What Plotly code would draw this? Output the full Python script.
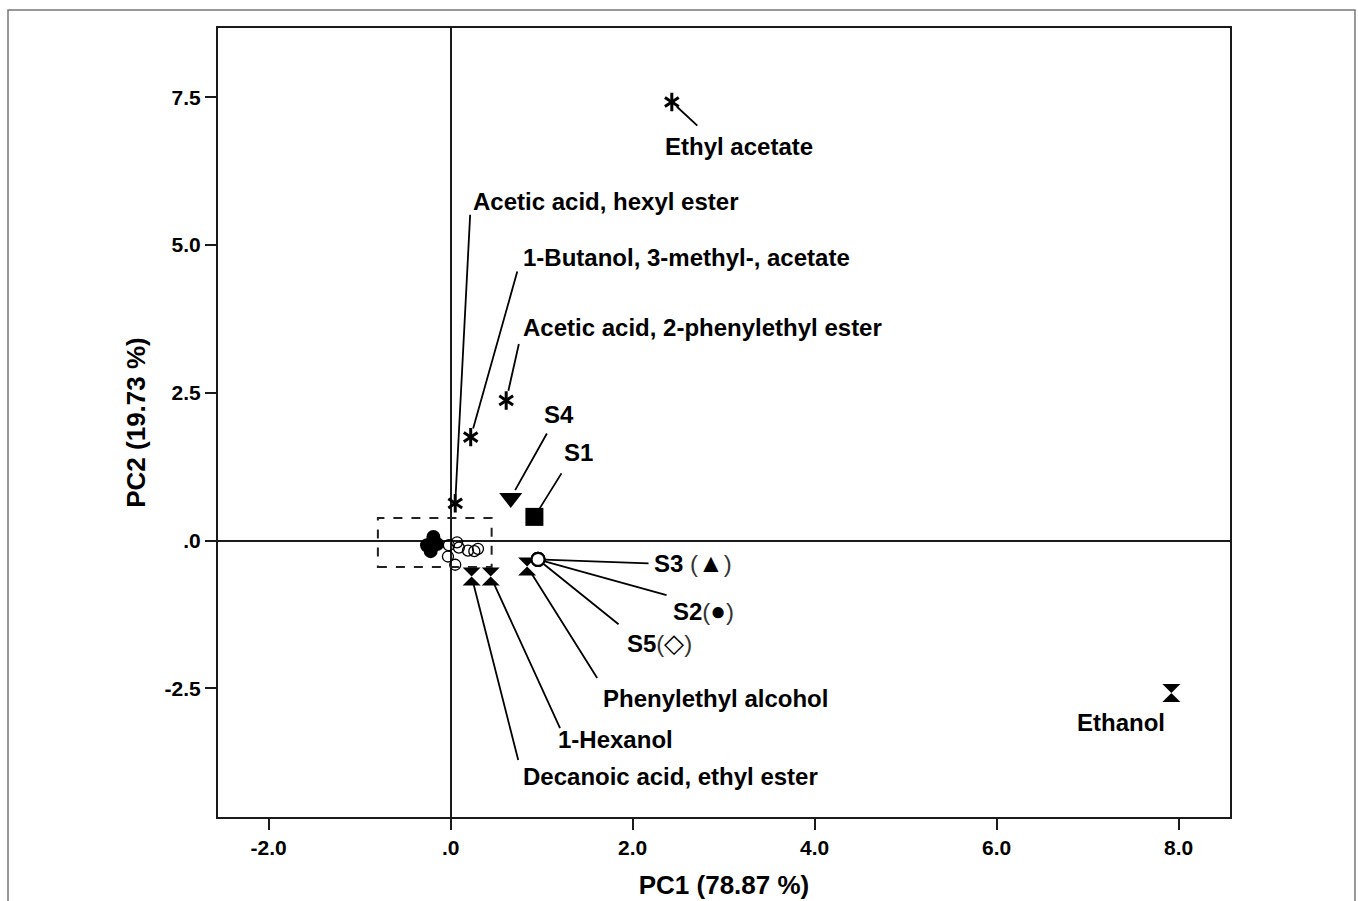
import plotly.graph_objects as go

# ---- PCA scores / loadings (PC1, PC2) ----
star_names = [
    "Ethyl acetate",
    "Acetic acid, hexyl ester",
    "1-Butanol, 3-methyl-, acetate",
    "Acetic acid, 2-phenylethyl ester",
]
star_pc1 = [2.43, 0.05, 0.22, 0.61]
star_pc2 = [7.42, 0.63, 1.75, 2.37]

hourglass_names = [
    "Ethanol",
    "Phenylethyl alcohol",
    "1-Hexanol",
    "Decanoic acid, ethyl ester",
]
hourglass_pc1 = [7.92, 0.84, 0.44, 0.23]
hourglass_pc2 = [-2.58, -0.44, -0.61, -0.61]

sample_names = ["S1", "S2", "S3", "S4", "S5"]
sample_pc1 = [0.92, 0.96, 0.96, 0.66, 0.96]
sample_pc2 = [0.40, -0.32, -0.32, 0.72, -0.32]

# minor compounds clustered near the origin
open_pc1 = [-0.02, 0.07, 0.09, 0.19, 0.26, 0.30, -0.03, 0.05]
open_pc2 = [-0.08, -0.03, -0.12, -0.17, -0.18, -0.14, -0.27, -0.41]

filled_pc1 = [-0.19, -0.26, -0.22, -0.15]
filled_pc2 = [0.06, -0.08, -0.18, -0.06]

# dashed box around the origin cluster: x0, x1, y0, y1
cluster_box = [-0.80, 0.45, -0.45, 0.38]

x_ticks = [-2, 0, 2, 4, 6, 8]
x_tick_text = ["-2.0", ".0", "2.0", "4.0", "6.0", "8.0"]
y_ticks = [-2.5, 0, 2.5, 5, 7.5]
y_tick_text = ["-2.5", ".0", "2.5", "5.0", "7.5"]

# ---- styling ----
FONT = "Arial, 'Liberation Sans', sans-serif"
LABEL_SIZE = 24
filled_samples = ["S1", "S4"]          # drawn with their own filled symbols
stacked_samples = ["S2", "S3", "S5"]   # coincide, shown as one open circle
sample_symbol = {"S1": "square", "S4": "triangle-down"}
sample_size = {"S1": 18, "S4": 20}
paren = "<span style='font-weight:normal;fill:#333'>{}</span>"
sym = "<span style='font-size:26px;font-weight:normal'>{}</span>"
sample_label = {
    "S1": "S1",
    "S2": "S2" + paren.format("(") + sym.format("●") + paren.format(")"),
    "S3": "S3 " + paren.format("(") + sym.format("▲") + paren.format(")"),
    "S4": "S4",
    "S5": "S5" + paren.format("(") + sym.format("◇") + paren.format(")"),
}

# label placement in pixels relative to the point (dy positive = down):
# text dx, text dy, text anchor, leader dx, leader dy, leader standoff
label_layout = {
    "Ethyl acetate": (67, 45, "center", 27, 25, 7),
    "Acetic acid, hexyl ester": (16, -302, "left", 15, -290, 9),
    "1-Butanol, 3-methyl-, acetate": (50, -180, "left", 47, -167, 9),
    "Acetic acid, 2-phenylethyl ester": (15, -73, "left", 13, -58, 10),
    "Ethanol": (-50, 29, "center", None, None, 0),
    "Phenylethyl alcohol": (74, 132, "left", 71, 113, 8),
    "1-Hexanol": (65, 163, "left", 70, 153, 8),
    "Decanoic acid, ethyl ester": (49, 200, "left", 47, 185, 8),
    "S1": (28, -64, "left", 28, -45, 10),
    "S2": (133, 52, "left", 130, 36, 6),
    "S3": (114, 4, "left", 112, 4, 6),
    "S4": (31, -83, "left", 37, -66, 9),
    "S5": (87, 84, "left", 82, 66, 6),
}

fig = go.Figure()

fig.add_trace(go.Scatter(
    x=filled_pc1, y=filled_pc2, mode="markers",
    marker=dict(symbol="circle", size=14, color="black"),
    hoverinfo="skip", showlegend=False,
))
fig.add_trace(go.Scatter(
    x=open_pc1, y=open_pc2, mode="markers",
    marker=dict(symbol="circle-open", size=11, color="black", line=dict(width=1.3)),
    hoverinfo="skip", showlegend=False,
))
# six-armed asterisk built from two opposing Y glyphs
for sym_name in ("y-up-open", "y-down-open"):
    fig.add_trace(go.Scatter(
        x=star_pc1, y=star_pc2, mode="markers", text=star_names,
        marker=dict(symbol=sym_name, size=11.5, color="black",
                    line=dict(width=3, color="black")),
        hoverinfo="text", showlegend=False,
    ))
fig.add_trace(go.Scatter(
    x=hourglass_pc1, y=hourglass_pc2, mode="markers", text=hourglass_names,
    marker=dict(symbol="hourglass", size=18, color="black"),
    hoverinfo="text", showlegend=False,
))

idx = {n: i for i, n in enumerate(sample_names)}
fig.add_trace(go.Scatter(
    x=[sample_pc1[idx[s]] for s in filled_samples],
    y=[sample_pc2[idx[s]] for s in filled_samples],
    mode="markers", text=filled_samples,
    marker=dict(symbol=[sample_symbol[s] for s in filled_samples],
                size=[sample_size[s] for s in filled_samples],
                color="black", opacity=1, line=dict(width=0)),
    hoverinfo="text", showlegend=False,
))
fig.add_trace(go.Scatter(
    x=[sample_pc1[idx[s]] for s in stacked_samples],
    y=[sample_pc2[idx[s]] for s in stacked_samples],
    mode="markers", text=stacked_samples,
    marker=dict(symbol="circle", size=13, color="white", opacity=1,
                line=dict(width=2.2, color="black")),
    hoverinfo="text", showlegend=False,
))

points = {}
for n, x, y in zip(star_names, star_pc1, star_pc2):
    points[n] = (x, y, n)
for n, x, y in zip(hourglass_names, hourglass_pc1, hourglass_pc2):
    points[n] = (x, y, n)
for n, x, y in zip(sample_names, sample_pc1, sample_pc2):
    points[n] = (x, y, sample_label[n])

for key, (x, y, text) in points.items():
    tdx, tdy, anchor, ldx, ldy, stand = label_layout[key]
    if ldx is not None:
        fig.add_annotation(
            x=x, y=y, xref="x", yref="y", text="", showarrow=True,
            ax=ldx, ay=ldy, arrowhead=0, arrowwidth=1.8, arrowcolor="black",
            standoff=stand,
        )
    fig.add_annotation(
        x=x, y=y, xref="x", yref="y", text=text, showarrow=False,
        xanchor=anchor, yanchor="middle", xshift=tdx, yshift=-tdy,
        font=dict(family=FONT, size=LABEL_SIZE, color="black", weight="bold"),
    )

x0, x1, y0, y1 = cluster_box
fig.add_shape(type="rect", xref="x", yref="y", x0=x0, x1=x1, y0=y0, y1=y1,
              line=dict(color="#222", width=2, dash="dash"))

# thin outer frame around the figure
fig.add_shape(type="rect", xref="paper", yref="paper",
              x0=-0.2075, x1=1.1235, y0=-0.12, y1=1.0228,
              line=dict(color="#777", width=1.5), layer="below")

axis_common = dict(
    showline=True, mirror=True, linecolor="#1a1a1a", linewidth=2,
    ticks="outside", ticklen=11, tickwidth=2, tickcolor="#1a1a1a",
    showgrid=False, zeroline=True, zerolinecolor="#1a1a1a", zerolinewidth=1.6,
    tickfont=dict(family=FONT, size=21, color="black", weight="bold"),
)

fig.update_xaxes(
    range=[-2.557, 8.564], tickvals=x_ticks, ticktext=x_tick_text,
    title=dict(text="PC1 (78.87 %)", standoff=18,
               font=dict(family=FONT, size=26, color="black", weight="bold")),
    **axis_common,
)
fig.update_yaxes(
    range=[-4.678, 8.672], tickvals=y_ticks, ticktext=y_tick_text,
    title=dict(text="PC2 (19.73 %)", standoff=12,
               font=dict(family=FONT, size=26, color="black", weight="bold")),
    **axis_common,
)

fig.update_layout(
    width=1358, height=901,
    margin=dict(l=218, r=128, t=28, b=84, autoexpand=False),
    paper_bgcolor="white", plot_bgcolor="white",
    showlegend=False,
)

fig.write_html("out.html")
